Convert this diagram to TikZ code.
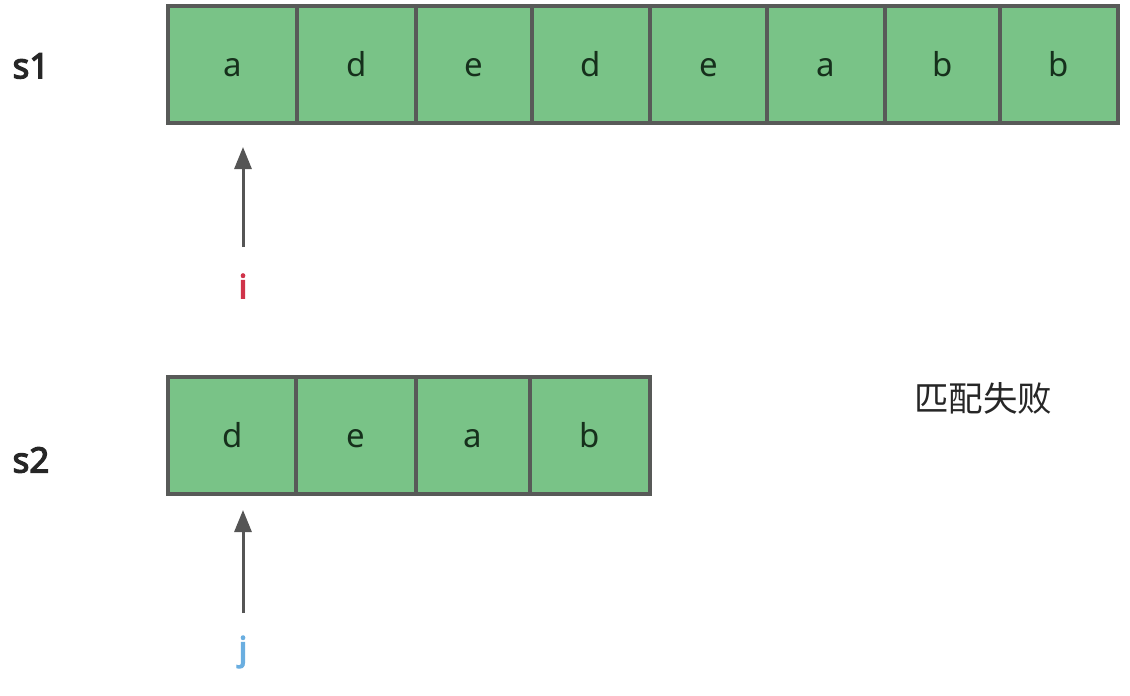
\documentclass[tikz,border=0pt]{standalone}
\usepackage{fontspec}
\setmainfont{Noto Sans}[AutoFakeBold=3.6]
\newfontfamily\cjkfont{Noto Sans CJK SC}
\usetikzlibrary{arrows.meta}
\definecolor{cellfill}{RGB}{121,195,135}
\definecolor{cellline}{RGB}{88,90,88}
\definecolor{celltext}{RGB}{22,48,28}
\definecolor{arrowgray}{RGB}{85,85,85}
\definecolor{ired}{RGB}{208,52,74}
\definecolor{jblue}{RGB}{106,174,224}
\begin{document}
\begin{tikzpicture}[x=1pt,y=-1pt,
  cellbox/.style={draw=cellline, fill=cellfill, line width=3.5pt, minimum height=117pt,
    inner sep=0pt, outer sep=0pt, font=\fontsize{33}{40}\selectfont, text=celltext,
    text height=24pt, text depth=0pt, anchor=center},
  rowlabel/.style={font=\fontsize{35}{40}\selectfont\bfseries, text=black!85, inner sep=0pt},
  ptrlabel/.style={font=\fontsize{33}{40}\selectfont\bfseries, inner sep=0pt},
  ptrarrow/.style={draw=arrowgray, line width=3pt, -{Triangle[length=22pt,width=17pt]}}]
\useasboundingbox (0,0) rectangle (1130,696);
% s1 row
\node[cellbox, minimum width=129pt] (a1) at (232.5,64.5) {a};
\node[cellbox, minimum width=119pt] (a2) at (356.5,64.5) {d};
\node[cellbox, minimum width=116pt] (a3) at (474,64.5) {e};
\node[cellbox, minimum width=118pt] (a4) at (591,64.5) {d};
\node[cellbox, minimum width=117pt] (a5) at (708.5,64.5) {e};
\node[cellbox, minimum width=118pt] (a6) at (826,64.5) {a};
\node[cellbox, minimum width=115pt] (a7) at (942.5,64.5) {b};
\node[cellbox, minimum width=118pt] (a8) at (1059,64.5) {b};
% s2 row
\node[cellbox, minimum width=129pt] (b1) at (232.5,435.5) {d};
\node[cellbox, minimum width=120pt] (b2) at (356,435.5) {e};
\node[cellbox, minimum width=114pt] (b3) at (473,435.5) {a};
\node[cellbox, minimum width=120pt] (b4) at (590,435.5) {b};
% row labels
\node[rowlabel] (s1) at (31,66) {s1};
\node[rowlabel] (s2) at (31,460) {s2};
% pointers
\node[ptrlabel, text=ired] (i) at (243,286) {i};
\node[ptrlabel, text=jblue] (j) at (243,652) {j};
\coordinate (itail) at (243,247);
\coordinate (ihead) at (243,147);
\coordinate (jtail) at (243,613);
\coordinate (jhead) at (243,510);
\draw[ptrarrow] (itail) -- (ihead);
\draw[ptrarrow] (jtail) -- (jhead);
% status
\node[font=\cjkfont\fontsize{34.5}{40}\selectfont, text=black!85, inner sep=0pt] (msg) at (983,398) {匹配失败};
\end{tikzpicture}
\end{document}
